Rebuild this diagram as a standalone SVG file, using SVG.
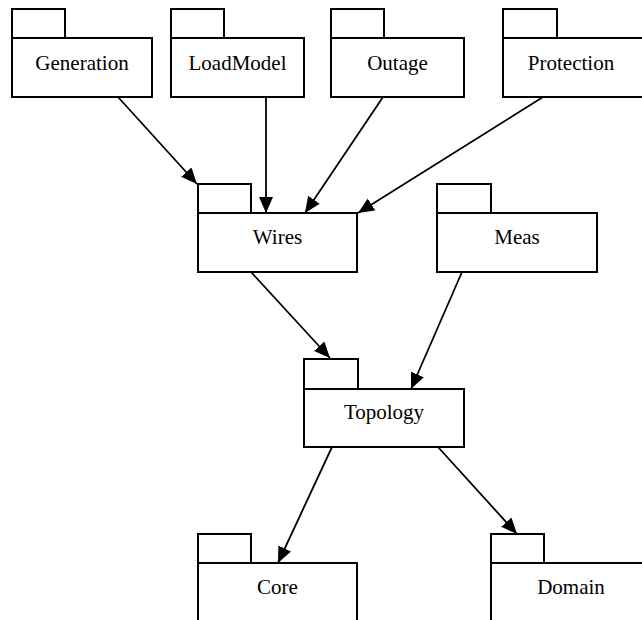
<svg xmlns="http://www.w3.org/2000/svg" width="642" height="620" viewBox="0 0 642 620">
<style>
.b{fill:#fff;stroke:#000;stroke-width:2}
.t{font-family:"Liberation Serif","Times New Roman",serif;font-size:21px;fill:#000;text-anchor:middle}
.c{stroke:#000;stroke-width:1.8;fill:none;marker-end:url(#a)}
</style>
<defs>
<marker id="a" markerUnits="userSpaceOnUse" markerWidth="18" markerHeight="15" refX="16" refY="7" orient="auto">
<path d="M0,0 L16,7 L0,14 z" fill="#000"/>
</marker>
</defs>
<rect width="642" height="620" fill="#fff"/>
<g id="Generation"><rect class="b" x="12" y="9" width="53" height="29"/><rect class="b" x="12" y="38" width="140" height="59"/><text class="t" x="82" y="70">Generation</text></g>
<g id="LoadModel"><rect class="b" x="171" y="9" width="53" height="29"/><rect class="b" x="171" y="38" width="133" height="59"/><text class="t" x="237.5" y="70">LoadModel</text></g>
<g id="Outage"><rect class="b" x="331" y="9" width="53" height="29"/><rect class="b" x="331" y="38" width="133" height="59"/><text class="t" x="397.5" y="70">Outage</text></g>
<g id="Protection"><rect class="b" x="503" y="9" width="54" height="29"/><rect class="b" x="503" y="38" width="142" height="59"/><text class="t" x="571" y="70">Protection</text></g>
<g id="Wires"><rect class="b" x="198" y="184" width="53" height="29"/><rect class="b" x="198" y="213" width="159" height="59"/><text class="t" x="277.5" y="244">Wires</text></g>
<g id="Meas"><rect class="b" x="437" y="184" width="54" height="29"/><rect class="b" x="437" y="213" width="160" height="59"/><text class="t" x="517" y="244">Meas</text></g>
<g id="Topology"><rect class="b" x="304" y="359" width="54" height="30"/><rect class="b" x="304" y="389" width="160" height="58"/><text class="t" x="384" y="419">Topology</text></g>
<g id="Core"><rect class="b" x="198" y="534" width="53" height="29"/><rect class="b" x="198" y="563" width="159" height="70"/><text class="t" x="277.5" y="594">Core</text></g>
<g id="Domain"><rect class="b" x="491" y="534" width="53" height="29"/><rect class="b" x="491" y="563" width="160" height="70"/><text class="t" x="571" y="594">Domain</text></g>
<g id="connectors">
<line class="c" x1="118" y1="97" x2="197" y2="184"/>
<line class="c" x1="266" y1="97" x2="266" y2="213"/>
<line class="c" x1="383" y1="97" x2="305" y2="213"/>
<line class="c" x1="543" y1="97" x2="358" y2="213"/>
<line class="c" x1="251" y1="272" x2="330" y2="358"/>
<line class="c" x1="462" y1="272" x2="411" y2="389"/>
<line class="c" x1="332" y1="447" x2="278" y2="563"/>
<line class="c" x1="438" y1="447" x2="517" y2="534"/>
</g>
</svg>
